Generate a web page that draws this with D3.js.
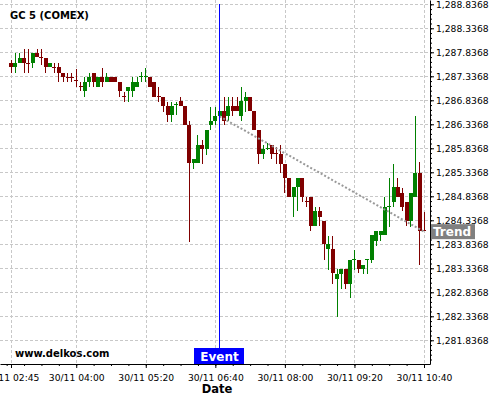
<!DOCTYPE html>
<html>
<head>
<meta charset="utf-8">
<script src="https://cdn.jsdelivr.net/npm/d3@7"></script>
<style>
body { margin: 0; background: #fff; }
text { font-family: "DejaVu Sans", sans-serif; }
</style>
</head>
<body>
<div id="chart"></div>
<script>
var w = 500, h = 400;
var plotW = 430, plotH = 364;

// Chart data
var title = "GC 5 (COMEX)";
var firstBar = "30/11 02:45";
var barMinutes = 5;

var opens = [1287.62, 1287.52, 1287.62, 1287.71, 1287.62, 1287.62, 1287.82, 1287.73, 1287.71, 1287.52,
  1287.52, 1287.52, 1287.41, 1287.33, 1287.33, 1287.25, 1287.13, 1287.02, 1287.22, 1287.41,
  1287.12, 1287.32, 1287.22, 1287.32, 1287.32, 1287.22, 1286.93, 1287.02, 1287.02, 1287.12,
  1287.33, 1287.33, 1287.32, 1287.22, 1286.93, 1286.91, 1286.72, 1286.52, 1286.74, 1286.82,
  1286.72, 1286.33, 1285.52, 1285.52, 1285.91, 1285.83, 1286.32, 1286.41, 1286.51, 1286.62,
  1286.51, 1286.72, 1286.72, 1286.51, 1286.82, 1286.91, 1286.62, 1286.22, 1285.72, 1285.84,
  1285.91, 1285.73, 1285.72, 1285.51, 1285.22, 1284.83, 1285.02, 1285.22, 1284.73, 1284.83,
  1284.22, 1284.52, 1284.32, 1283.73, 1283.73, 1283.12, 1283.22, 1283.32, 1283.01, 1283.51,
  1283.51, 1283.32, 1283.52, 1283.51, 1283.91, 1284.02, 1284.02, 1284.62, 1284.72, 1285.02,
  1284.91, 1284.71, 1284.32, 1284.83, 1285.32, 1284.13];
var highs = [1287.68, 1287.82, 1287.82, 1287.90, 1287.90, 1287.82, 1287.90, 1287.90, 1287.71, 1287.62,
  1287.61, 1287.61, 1287.41, 1287.40, 1287.40, 1287.49, 1287.22, 1287.32, 1287.40, 1287.41,
  1287.32, 1287.50, 1287.40, 1287.32, 1287.32, 1287.22, 1287.00, 1287.11, 1287.32, 1287.33,
  1287.43, 1287.50, 1287.32, 1287.22, 1287.11, 1286.91, 1286.81, 1286.81, 1286.81, 1286.91,
  1286.72, 1286.41, 1285.61, 1286.11, 1286.01, 1286.22, 1286.70, 1286.70, 1286.70, 1286.91,
  1286.91, 1286.91, 1286.91, 1287.11, 1287.01, 1286.91, 1286.62, 1286.22, 1285.91, 1285.95,
  1285.91, 1285.87, 1285.91, 1285.51, 1285.22, 1285.02, 1285.22, 1285.22, 1284.83, 1284.83,
  1284.62, 1284.62, 1284.32, 1284.01, 1284.01, 1283.33, 1283.32, 1283.32, 1283.51, 1283.72,
  1283.51, 1283.41, 1283.53, 1284.02, 1284.11, 1284.11, 1284.82, 1285.21, 1285.50, 1285.21,
  1285.01, 1284.71, 1284.91, 1286.51, 1285.56, 1284.50];
var lows = [1287.41, 1287.41, 1287.62, 1287.41, 1287.41, 1287.50, 1287.73, 1287.57, 1287.41, 1287.52,
  1287.41, 1287.22, 1287.22, 1287.22, 1287.22, 1287.12, 1287.02, 1286.90, 1287.12, 1287.12,
  1287.12, 1287.12, 1287.22, 1287.22, 1287.22, 1286.90, 1286.81, 1286.81, 1286.91, 1287.12,
  1287.22, 1287.22, 1287.12, 1286.91, 1286.81, 1286.60, 1286.39, 1286.39, 1286.52, 1286.72,
  1286.33, 1283.89, 1285.40, 1285.52, 1285.50, 1285.70, 1286.22, 1286.32, 1286.51, 1286.32,
  1286.41, 1286.50, 1286.62, 1286.41, 1286.60, 1286.62, 1286.22, 1285.50, 1285.61, 1285.80,
  1285.61, 1285.51, 1285.32, 1284.91, 1284.83, 1284.41, 1284.52, 1284.72, 1284.62, 1284.12,
  1284.22, 1284.22, 1283.51, 1283.30, 1283.01, 1282.32, 1282.91, 1282.91, 1282.72, 1283.30,
  1283.24, 1283.22, 1283.22, 1283.45, 1283.81, 1283.91, 1284.02, 1284.20, 1284.62, 1284.83,
  1284.52, 1284.22, 1284.20, 1284.83, 1283.41, 1284.12];
var closes = [1287.52, 1287.62, 1287.71, 1287.62, 1287.60, 1287.82, 1287.73, 1287.71, 1287.52, 1287.62,
  1287.50, 1287.41, 1287.33, 1287.32, 1287.32, 1287.23, 1287.12, 1287.22, 1287.32, 1287.22,
  1287.32, 1287.22, 1287.32, 1287.22, 1287.22, 1287.02, 1286.92, 1287.11, 1287.22, 1287.22,
  1287.34, 1287.34, 1287.12, 1286.91, 1286.92, 1286.72, 1286.52, 1286.72, 1286.75, 1286.72,
  1286.33, 1285.52, 1285.61, 1285.91, 1285.83, 1286.22, 1286.41, 1286.51, 1286.62, 1286.41,
  1286.72, 1286.62, 1286.62, 1286.82, 1286.91, 1286.62, 1286.22, 1285.72, 1285.82, 1285.85,
  1285.72, 1285.72, 1285.51, 1285.22, 1284.83, 1285.02, 1285.22, 1284.83, 1284.72, 1284.22,
  1284.52, 1284.41, 1283.84, 1283.84, 1283.23, 1283.22, 1283.32, 1283.01, 1283.51, 1283.52,
  1283.32, 1283.41, 1283.53, 1284.02, 1284.11, 1284.11, 1284.62, 1284.63, 1285.02, 1284.83,
  1284.62, 1284.32, 1284.91, 1285.32, 1284.12, 1284.12];

var xTickLabels = ["30/11 02:45", "30/11 04:00", "30/11 05:20", "30/11 06:40",
  "30/11 08:00", "30/11 09:20", "30/11 10:40"];
var yTickValues = [1281.8368, 1282.3368, 1282.8368, 1283.3368, 1283.8368, 1284.3368, 1284.8368,
  1285.3368, 1285.8368, 1286.3368, 1286.8368, 1287.3368, 1287.8368, 1288.3368, 1288.8368];

var eventTime = "30/11 06:45";
var trendStart = ["30/11 06:45", 1286.50];
var trendEnd = ["30/11 10:40", 1284.10];

var parseTime = d3.timeParse("%d/%m %H:%M");
var t0 = parseTime(firstBar);

// One record per bar
var bars = opens.map(function(o, i) {
  return {
    time: d3.timeMinute.offset(t0, i * barMinutes),
    open: o, high: highs[i], low: lows[i], close: closes[i]
  };
});

var x = d3.scaleTime()
  .domain([d3.timeSecond.offset(t0, -760), d3.timeSecond.offset(bars[bars.length - 1].time, 414)])
  .range([0, plotW]);

var y = d3.scaleLinear()
  .domain([1281.343, 1288.926])
  .range([plotH, 0]);

var svg = d3.select("#chart")
  .append("svg")
  .attr("width", w)
  .attr("height", h);

var xTicks = xTickLabels.map(parseTime);

// Grid lines
svg.append("g")
  .selectAll("line")
  .data(yTickValues)
  .enter()
  .append("line")
  .attr("x1", 0)
  .attr("x2", plotW)
  .attr("y1", function(d) { return Math.round(y(d)) + 0.5; })
  .attr("y2", function(d) { return Math.round(y(d)) + 0.5; })
  .attr("stroke", "#c8c8c8")
  .attr("stroke-dasharray", "3,2");

svg.append("g")
  .selectAll("line")
  .data(xTicks)
  .enter()
  .append("line")
  .attr("x1", function(d) { return Math.round(x(d)) + 0.5; })
  .attr("x2", function(d) { return Math.round(x(d)) + 0.5; })
  .attr("y1", 0)
  .attr("y2", plotH)
  .attr("stroke", "#c8c8c8")
  .attr("stroke-dasharray", "3,2");

// Candles
var bodyW = 4;
var candles = svg.append("g")
  .selectAll("g")
  .data(bars)
  .enter()
  .append("g")
  .attr("shape-rendering", "crispEdges");

function colorOf(d) {
  return d.close >= d.open ? "#008000" : "#800000";
}

candles.append("line")
  .attr("x1", function(d) { return x(d.time); })
  .attr("x2", function(d) { return x(d.time); })
  .attr("y1", function(d) { return y(d.high); })
  .attr("y2", function(d) { return y(d.low); })
  .attr("stroke", colorOf);

candles.append("rect")
  .attr("x", function(d) { return x(d.time) - bodyW / 2; })
  .attr("width", bodyW)
  .attr("y", function(d) { return y(Math.max(d.open, d.close)); })
  .attr("height", function(d) { return Math.max(1, Math.abs(y(d.open) - y(d.close))); })
  .attr("fill", colorOf);

// Trend line
svg.append("line")
  .attr("x1", x(parseTime(trendStart[0])))
  .attr("y1", y(trendStart[1]))
  .attr("x2", x(parseTime(trendEnd[0])))
  .attr("y2", y(trendEnd[1]))
  .attr("stroke", "#999")
  .attr("stroke-width", 2)
  .attr("stroke-dasharray", "2,2");

// Event line
var ex = Math.floor(x(parseTime(eventTime))) + 0.5;
svg.append("line")
  .attr("x1", ex).attr("x2", ex)
  .attr("y1", 4).attr("y2", plotH)
  .attr("stroke", "#0000ff");

// Axes
svg.append("g")
  .attr("transform", "translate(" + plotW + ",0)")
  .call(d3.axisRight(y)
    .tickValues(yTickValues)
    .tickFormat(d3.format(",.4f"))
    .tickSize(4)
    .tickPadding(2)
    .tickSizeOuter(0));

svg.append("g")
  .attr("transform", "translate(" + plotW + ",0)")
  .call(d3.axisRight(y)
    .tickValues(d3.range(1281.4368, 1288.92, 0.1))
    .tickFormat("")
    .tickSize(2))
  .select(".domain").remove();

svg.append("g")
  .attr("transform", "translate(0," + plotH + ")")
  .call(d3.axisBottom(x)
    .tickValues(xTicks)
    .tickFormat(d3.timeFormat("%d/%m %H:%M"))
    .tickSize(4)
    .tickPadding(6)
    .tickSizeOuter(0));

svg.append("g")
  .attr("transform", "translate(0," + plotH + ")")
  .call(d3.axisBottom(x)
    .ticks(d3.timeMinute.every(20))
    .tickFormat("")
    .tickSize(2))
  .select(".domain").remove();

svg.selectAll(".tick text")
  .attr("font-family", "DejaVu Sans")
  .attr("font-size", 9.2)
  .attr("fill", "#000");

// Labels
svg.append("text")
  .attr("x", 10)
  .attr("y", 19)
  .attr("font-size", 10)
  .attr("font-weight", "bold")
  .text(title);

svg.append("text")
  .attr("x", 15)
  .attr("y", 357)
  .attr("font-size", 10)
  .attr("font-weight", "bold")
  .text("www.delkos.com");

svg.append("text")
  .attr("x", plotW / 2 + 2)
  .attr("y", 393)
  .attr("text-anchor", "middle")
  .attr("font-size", 11.5)
  .attr("font-weight", "bold")
  .text("Date");

svg.append("rect")
  .attr("x", ex - 25.5)
  .attr("y", plotH - 16)
  .attr("width", 50)
  .attr("height", 16)
  .attr("fill", "#0000ff");

svg.append("text")
  .attr("x", ex)
  .attr("y", plotH - 3.5)
  .attr("text-anchor", "middle")
  .attr("font-size", 12)
  .attr("font-weight", "bold")
  .attr("fill", "#fff")
  .text("Event");

var ty = y(trendEnd[1]);
svg.append("rect")
  .attr("x", plotW + 1)
  .attr("y", ty - 7.5)
  .attr("width", 44)
  .attr("height", 15)
  .attr("fill", "#808080");

svg.append("text")
  .attr("x", plotW + 3)
  .attr("y", ty + 4.5)
  .attr("font-size", 12)
  .attr("font-weight", "bold")
  .attr("fill", "#fff")
  .text("Trend");
</script>
</body>
</html>
